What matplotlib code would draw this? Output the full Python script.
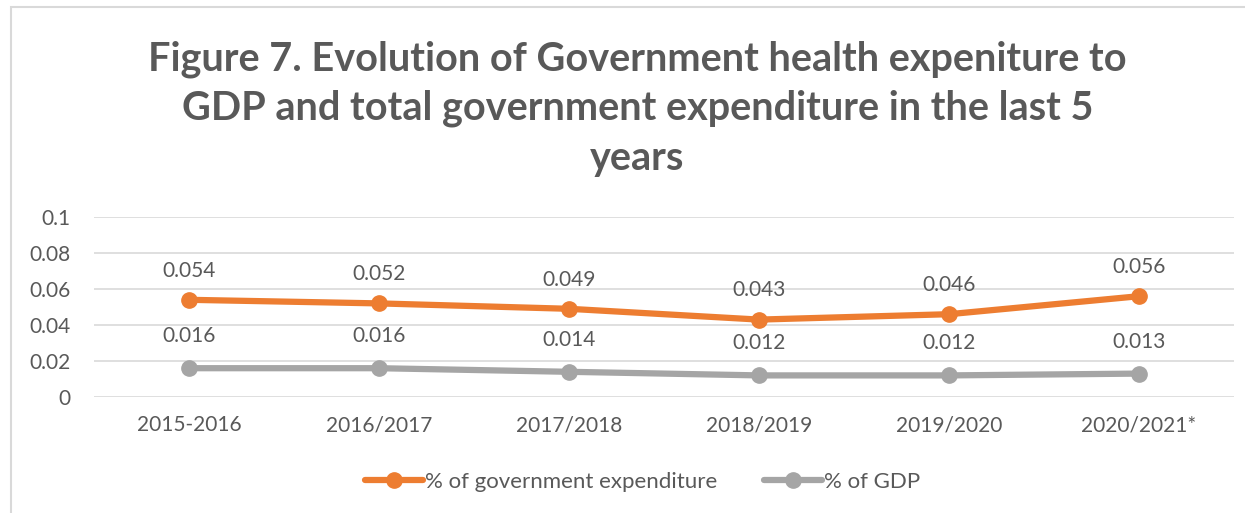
import matplotlib
matplotlib.use('Agg')
import matplotlib.pyplot as plt
from matplotlib.patches import Rectangle

# Datos de la figura
periodos = ['2015-2016', '2016/2017', '2017/2018', '2018/2019', '2019/2020', '2020/2021*']
gasto_gobierno = [0.054, 0.052, 0.049, 0.043, 0.046, 0.056]
pib = [0.016, 0.016, 0.014, 0.012, 0.012, 0.013]
yticks = [0, 0.02, 0.04, 0.06, 0.08, 0.1]
ytick_labels = ['0', '0.02', '0.04', '0.06', '0.08', '0.1']

naranja = '#ED7D31'
gris = '#A5A5A5'
texto = '#595959'

plt.rcParams['font.family'] = ['Lato', 'DejaVu Sans']

W, H = 1245, 513
fig = plt.figure(figsize=(W / 100, H / 100), dpi=100)

# Marco del grafico
fig.patches.append(Rectangle((11 / W, -0.05), 1.2, 1.05 - 7 / H, transform=fig.transFigure,
                             fill=False, edgecolor='#d9d9d9', linewidth=1.5))

ax = fig.add_axes([94 / W, 1 - 397 / H, (1234 - 94) / W, (397 - 217) / H])

x = list(range(len(periodos)))
ax.plot(x, gasto_gobierno, color=naranja, linewidth=4.5, marker='o', markersize=11,
        label='% of government expenditure', solid_capstyle='round')
ax.plot(x, pib, color=gris, linewidth=4.5, marker='o', markersize=11,
        label='% of GDP', solid_capstyle='round')

# Etiquetas de valores
for xi, v in zip(x, gasto_gobierno):
    ax.annotate(f'{v:.3f}', (xi, v), xytext=(0, 21), textcoords='offset points',
                ha='center', va='center', fontsize=15, color=texto)
for xi, v in zip(x, pib):
    ax.annotate(f'{v:.3f}', (xi, v), xytext=(0, 23), textcoords='offset points',
                ha='center', va='center', fontsize=15, color=texto)

ax.set_xlim(-0.5, len(periodos) - 0.5)
ax.set_ylim(0, 0.1)
ax.set_yticks(yticks)
ax.set_yticklabels(ytick_labels)
ax.set_xticks(x)
ax.set_xticklabels(periodos)
ax.tick_params(axis='both', length=0, labelsize=15, labelcolor=texto)
ax.tick_params(axis='y', pad=17)
ax.tick_params(axis='x', pad=13)
ax.grid(axis='y', color='#d9d9d9', linewidth=1.2)
ax.set_axisbelow(True)
for s in ax.spines.values():
    s.set_visible(False)

fig.suptitle('Figure 7. Evolution of Government health expeniture to\n'
             'GDP and total government expenditure in the last 5\nyears',
             x=0.512, y=1 - 40 / H, va='top', fontsize=28.5, fontweight='bold',
             color=texto, linespacing=1.41)

fig.legend(loc='center', bbox_to_anchor=(0.516, 1 - 482 / H), ncol=2, frameon=False,
           fontsize=16, labelcolor=texto, handlelength=2.6, handletextpad=0.1,
           columnspacing=2.1)

fig.savefig('out.png', dpi=100)
